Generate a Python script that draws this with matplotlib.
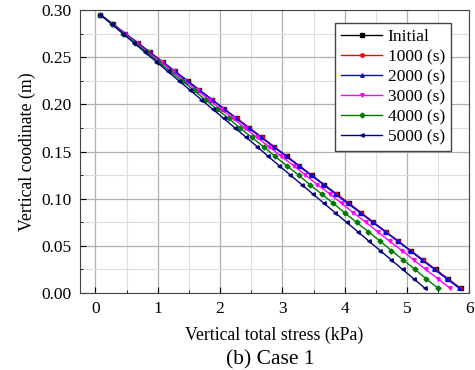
import numpy as np
import matplotlib
matplotlib.use("Agg")
import matplotlib.pyplot as plt
from matplotlib.ticker import MultipleLocator

plt.rcParams['font.family'] = ['Liberation Serif', 'DejaVu Serif']

# vertical coordinate (m)
depth = [0.295, 0.285, 0.275, 0.265, 0.255, 0.245, 0.235, 0.225, 0.215, 0.205,
         0.195, 0.185, 0.175, 0.165, 0.155, 0.145, 0.135, 0.125, 0.115, 0.105,
         0.095, 0.085, 0.075, 0.065, 0.055, 0.045, 0.035, 0.025, 0.015, 0.005]

# vertical total stress (kPa) per time
s_initial = [0.08, 0.28, 0.48, 0.68, 0.88, 1.08, 1.28, 1.48, 1.67, 1.87,
             2.07, 2.27, 2.47, 2.67, 2.87, 3.07, 3.27, 3.47, 3.67, 3.87,
             4.07, 4.27, 4.46, 4.66, 4.86, 5.06, 5.26, 5.46, 5.66, 5.86]
s_1000 = [0.08, 0.28, 0.48, 0.68, 0.88, 1.07, 1.27, 1.47, 1.67, 1.87,
          2.07, 2.27, 2.47, 2.67, 2.87, 3.06, 3.26, 3.46, 3.66, 3.86,
          4.06, 4.26, 4.46, 4.66, 4.86, 5.05, 5.25, 5.45, 5.65, 5.85]
s_2000 = [0.08, 0.28, 0.48, 0.68, 0.87, 1.07, 1.27, 1.47, 1.67, 1.87,
          2.07, 2.26, 2.46, 2.66, 2.86, 3.06, 3.26, 3.46, 3.66, 3.85,
          4.05, 4.25, 4.45, 4.65, 4.85, 5.05, 5.24, 5.44, 5.64, 5.84]
s_3000 = [0.08, 0.27, 0.47, 0.66, 0.85, 1.05, 1.24, 1.43, 1.63, 1.82,
          2.01, 2.21, 2.40, 2.59, 2.79, 2.98, 3.18, 3.37, 3.56, 3.76,
          3.95, 4.14, 4.34, 4.53, 4.72, 4.92, 5.11, 5.30, 5.50, 5.69]
s_4000 = [0.08, 0.27, 0.45, 0.64, 0.83, 1.01, 1.20, 1.39, 1.58, 1.76,
          1.95, 2.14, 2.32, 2.51, 2.70, 2.88, 3.07, 3.26, 3.44, 3.63,
          3.82, 4.00, 4.19, 4.38, 4.57, 4.75, 4.94, 5.13, 5.31, 5.50]
s_5000 = [0.08, 0.26, 0.44, 0.62, 0.80, 0.98, 1.16, 1.34, 1.52, 1.70,
          1.88, 2.06, 2.24, 2.42, 2.60, 2.77, 2.95, 3.13, 3.31, 3.49,
          3.67, 3.85, 4.03, 4.21, 4.39, 4.57, 4.75, 4.93, 5.11, 5.29]

labels = ["Initial", "1000 (s)", "2000 (s)", "3000 (s)", "4000 (s)", "5000 (s)"]
series = [s_initial, s_1000, s_2000, s_3000, s_4000, s_5000]
colors = ["black", "red", "blue", "magenta", "#007a00", "#000080"]
markers = ["s", "o", "^", "v", "D", "<"]

fig = plt.figure(figsize=(4.75, 3.7), dpi=100)
ax = fig.add_axes([0.168, 0.208, 0.82, 0.765])

for s, lab, c, m in zip(series, labels, colors, markers):
    ax.plot(s, depth, color=c, marker=m, markersize=2.5, linewidth=1.0, label=lab)

ax.set_xlim(-0.25, 6.0)
ax.set_ylim(0.0, 0.30)
ax.xaxis.set_major_locator(MultipleLocator(1))
ax.xaxis.set_minor_locator(MultipleLocator(0.5))
ax.yaxis.set_major_locator(MultipleLocator(0.05))
ax.yaxis.set_minor_locator(MultipleLocator(0.025))
ax.yaxis.set_major_formatter(matplotlib.ticker.FormatStrFormatter('%.2f'))
ax.grid(True, which='major', color='#b0b0b0', linewidth=0.9)
ax.grid(True, which='minor', color='#dddddd', linewidth=0.8)
ax.set_axisbelow(True)
ax.tick_params(which='both', direction='in', labelsize=12.5)
ax.tick_params(which='major', length=4, pad=6)
ax.tick_params(which='minor', length=2)
for sp in ax.spines.values():
    sp.set_color('#444444')

ax.set_xlabel("Vertical total stress (kPa)", fontsize=12.8, labelpad=7)
ax.set_ylabel("Vertical coodinate (m)", fontsize=12.8, labelpad=4)

leg = ax.legend(loc='upper right', fontsize=12.5, handlelength=2.4, fancybox=False,
                framealpha=1, edgecolor='#444444', borderpad=0.35, labelspacing=0.22,
                handletextpad=0.3, bbox_to_anchor=(0.975, 0.985))

fig.text(0.57, 0.015, "(b) Case 1", fontsize=15.5, ha='center')

fig.savefig("out.png", dpi=100)
